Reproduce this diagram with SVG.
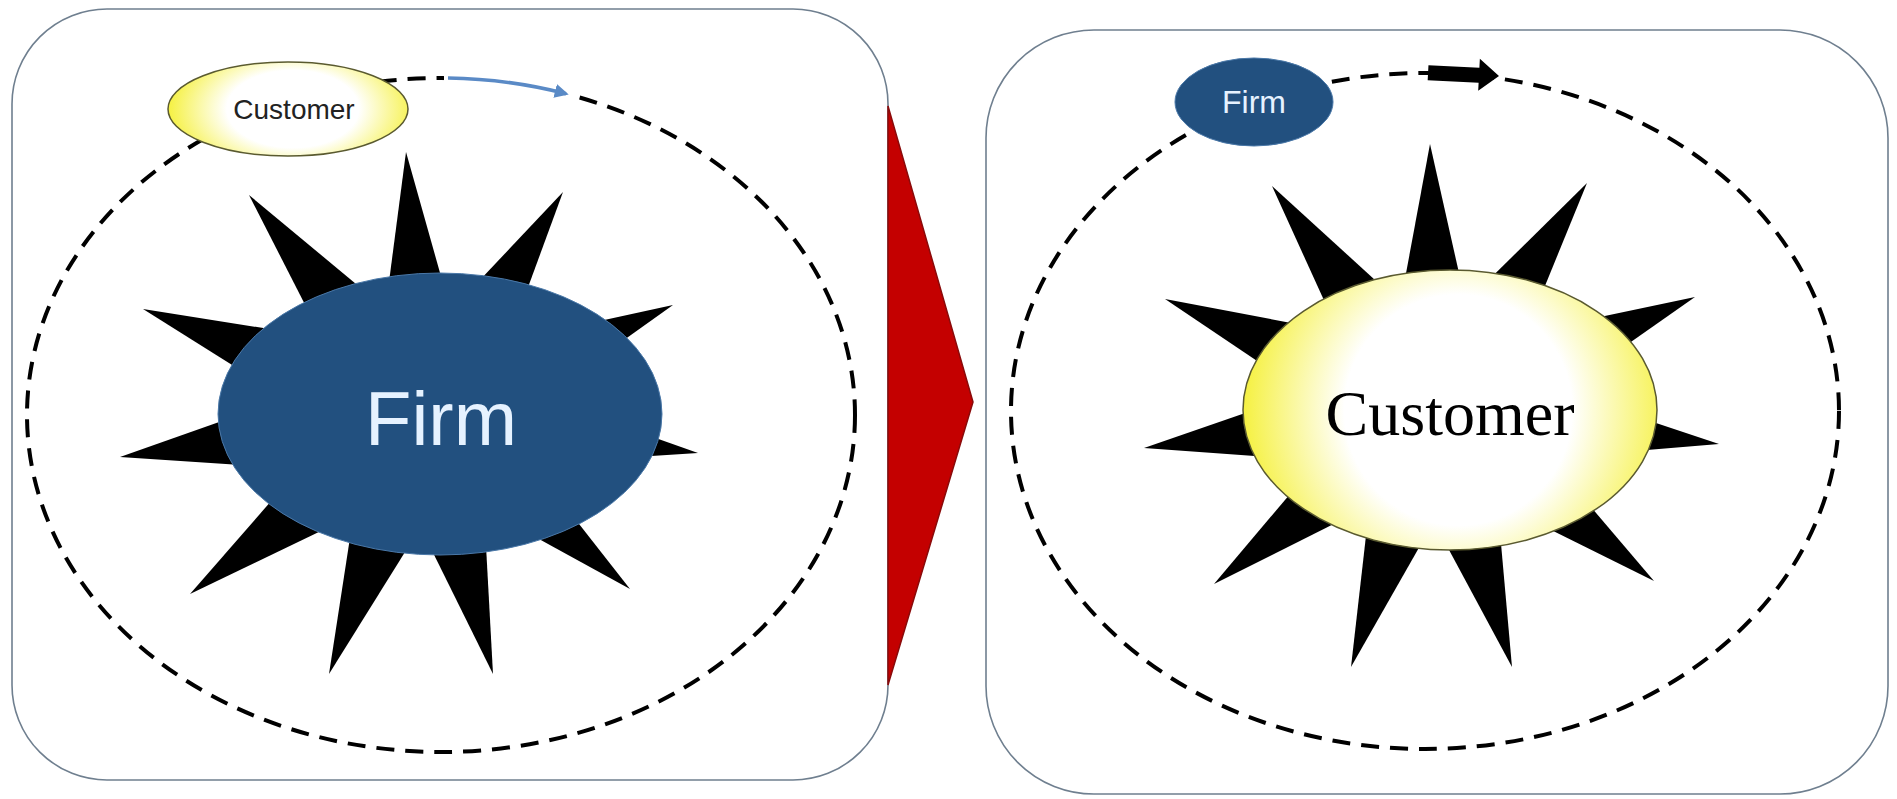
<svg xmlns="http://www.w3.org/2000/svg" xmlns:xlink="http://www.w3.org/1999/xlink" width="1897" height="799" viewBox="0 0 1897 799">
  <style>
    .panel { fill: #ffffff; stroke: #6f7f8f; stroke-width: 1.6; }
    .orbit { fill: none; stroke: #000000; stroke-width: 4; stroke-dasharray: 18 11; }
    .spike { fill: #000000; }
    .firm { fill: #22507f; }
    .cust { stroke: #5a5a30; stroke-width: 1.5; }
    .firmtxt { font-family: "Liberation Sans", Arial, sans-serif; fill: #e6f2ff; text-anchor: middle; }
    .custtxt-s { font-family: "Liberation Sans", Arial, sans-serif; fill: #222222; text-anchor: middle; }
    .custtxt-l { font-family: "Liberation Serif", "Times New Roman", serif; fill: #000000; text-anchor: middle; }
  </style>
  <defs>
    <polygon id="spike" class="spike" points="0,0 -20.5,100 20.5,100"/>
    <radialGradient id="yellowGlow" cx="0.52" cy="0.5" r="0.55" gradientTransform="translate(0.52 0.5) scale(1 1.5) translate(-0.52 -0.5)">
      <stop offset="0" stop-color="#ffffff"/>
      <stop offset="0.5" stop-color="#ffffff"/>
      <stop offset="1" stop-color="#f4ef2a"/>
    </radialGradient>
    <marker id="blueHead" viewBox="0 0 10 10" refX="8" refY="5" markerWidth="4" markerHeight="4" orient="auto" markerUnits="strokeWidth">
      <path d="M0,0 L10,5 L0,10 z" fill="#5a8ac6"/>
    </marker>
  </defs>

  <rect width="1897" height="799" fill="#ffffff"/>

  <!-- Left panel -->
  <g id="panel-left">
    <rect class="panel" x="12" y="9" width="876" height="771" rx="95" ry="95"/>
  </g>

  <!-- Right panel -->
  <g id="panel-right">
    <rect class="panel" x="986" y="30" width="902" height="764" rx="108" ry="108"/>
  </g>

  <!-- Transition arrow -->
  <g id="transition-arrow">
    <polygon points="888,106 973,402 888,685" fill="#c40000" stroke="#8a0a0a" stroke-width="1.5"/>
  </g>

  <!-- Connectors: orbits and direction arrows -->
  <g id="connectors">
    <ellipse class="orbit" cx="441" cy="415" rx="414" ry="337"/>
    <ellipse class="orbit" cx="1425" cy="411" rx="414" ry="338"/>
    <path d="M 444,78 A 414 337 0 0 1 572,95" fill="none" stroke="#ffffff" stroke-width="8"/>
    <path d="M 448,78 A 414 337 0 0 1 566,93.7" fill="none" stroke="#5a8ac6" stroke-width="3.5" marker-end="url(#blueHead)"/>
    <polygon points="1428,67 1479,67 1479,58 1499,74 1479,90 1479,82 1428,82" fill="#000000" transform="rotate(3 1463 75)"/>
  </g>

  <!-- Left star -->
  <g id="star-left">
    <use xlink:href="#spike" transform="translate(406 152) rotate(-4.13) scale(1.714)"/>
    <use xlink:href="#spike" transform="translate(563 192) rotate(31.75) scale(1.704)"/>
    <use xlink:href="#spike" transform="translate(673 305) rotate(66.08) scale(1.763)"/>
    <use xlink:href="#spike" transform="translate(698 453) rotate(97.92) scale(1.792)"/>
    <use xlink:href="#spike" transform="translate(630 589) rotate(130.33) scale(1.748)"/>
    <use xlink:href="#spike" transform="translate(493 674) rotate(165.29) scale(1.741)"/>
    <use xlink:href="#spike" transform="translate(329 674) rotate(-159.66) scale(1.795)"/>
    <use xlink:href="#spike" transform="translate(190 594) rotate(-127.30) scale(1.920)"/>
    <use xlink:href="#spike" transform="translate(120 457) rotate(-97.84) scale(2.001)"/>
    <use xlink:href="#spike" transform="translate(143 309) rotate(-69.40) scale(1.958)"/>
    <use xlink:href="#spike" transform="translate(249 195) rotate(-38.66) scale(1.831)"/>
  </g>

  <!-- Left centre: Firm -->
  <g id="node-firm-centre">
    <ellipse class="firm" cx="440" cy="414" rx="222" ry="141" stroke="#4a78a8" stroke-width="1"/>
    <text class="firmtxt" x="441" y="445" font-size="76">Firm</text>
  </g>

  <!-- Left orbit: Customer -->
  <g id="node-customer-orbit">
    <ellipse class="cust" cx="288" cy="109" rx="120" ry="47" fill="url(#yellowGlow)"/>
    <text class="custtxt-s" x="294" y="119" font-size="28">Customer</text>
  </g>

  <!-- Right star -->
  <g id="star-right">
    <use xlink:href="#spike" transform="translate(1430 144) rotate(-1.08) scale(1.729)"/>
    <use xlink:href="#spike" transform="translate(1587 183) rotate(33.80) scale(1.776)"/>
    <use xlink:href="#spike" transform="translate(1695 297) rotate(66.51) scale(1.843)"/>
    <use xlink:href="#spike" transform="translate(1719 444) rotate(96.83) scale(1.859)"/>
    <use xlink:href="#spike" transform="translate(1654 581) rotate(127.99) scale(1.806)"/>
    <use xlink:href="#spike" transform="translate(1512 667) rotate(163.32) scale(1.744)"/>
    <use xlink:href="#spike" transform="translate(1351 667) rotate(-161.90) scale(1.758)"/>
    <use xlink:href="#spike" transform="translate(1214 584) rotate(-128.22) scale(1.828)"/>
    <use xlink:href="#spike" transform="translate(1144 448) rotate(-97.44) scale(1.908)"/>
    <use xlink:href="#spike" transform="translate(1165 299) rotate(-67.65) scale(1.897)"/>
    <use xlink:href="#spike" transform="translate(1272 186) rotate(-36.04) scale(1.801)"/>
  </g>

  <!-- Right centre: Customer -->
  <g id="node-customer-centre">
    <ellipse class="cust" cx="1450" cy="410" rx="207" ry="140" fill="url(#yellowGlow)"/>
    <text class="custtxt-l" x="1450" y="435" font-size="64">Customer</text>
  </g>

  <!-- Right orbit: Firm -->
  <g id="node-firm-orbit">
    <ellipse class="firm" cx="1254" cy="102" rx="79" ry="44" stroke="#4a78a8" stroke-width="1"/>
    <text class="firmtxt" x="1254" y="113" font-size="32">Firm</text>
  </g>
</svg>
